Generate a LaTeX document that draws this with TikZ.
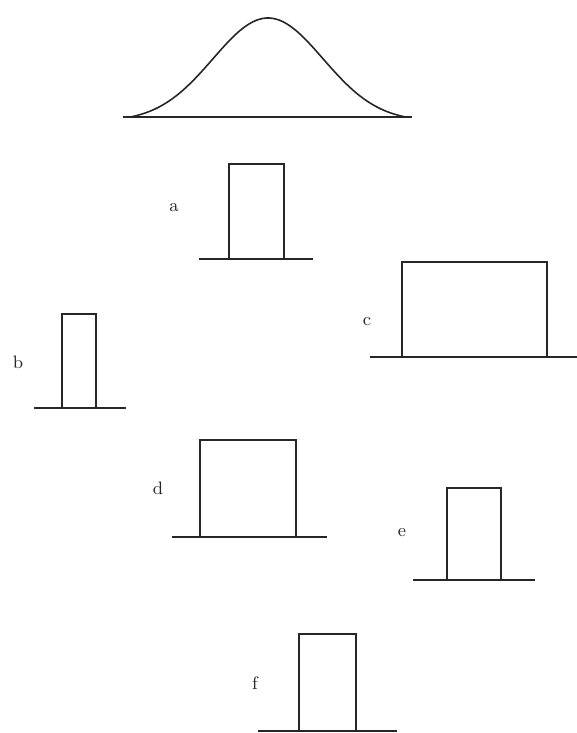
\documentclass[tikz,border=0pt]{standalone}
\begin{document}
\begin{tikzpicture}[x=0.5pt,y=-0.5pt,
  pulse/.style={line width=0.9pt,draw=black!85,line join=miter},
  base/.style={line width=0.8pt,draw=black!85},
  lbl/.style={font=\small,text=black!85,inner sep=0pt}]
\useasboundingbox (0,0) rectangle (577,733);
% Gaussian
\draw[base] (123,117) -- (412,117);
\draw[pulse,line width=0.8pt,smooth,samples=80,domain=-2.5:2.5]
  plot ({268+55*\x},{117-99*(exp(-\x*\x/2)-0.0439)/0.9561});
% a
\draw[base] (199,259) -- (313,259);
\draw[pulse] (229,259) -- (229,164) -- (284,164) -- (284,259);
\node[lbl] (la) at (174,208) {a};
% b
\draw[base] (34,408) -- (126,408);
\draw[pulse] (62,408) -- (62,314) -- (96,314) -- (96,408);
\node[lbl] (lb) at (18,362) {b};
% c
\draw[base] (370,357) -- (577,357);
\draw[pulse] (402,357) -- (402,262) -- (547,262) -- (547,357);
\node[lbl] (lc) at (367,322) {c};
% d
\draw[base] (172,537) -- (327,537);
\draw[pulse] (200,537) -- (200,440) -- (296,440) -- (296,537);
\node[lbl] (ld) at (158,488) {d};
% e
\draw[base] (413,580) -- (535,580);
\draw[pulse] (447,580) -- (447,488) -- (501,488) -- (501,580);
\node[lbl] (le) at (402,533) {e};
% f
\draw[base] (258,731) -- (397,731);
\draw[pulse] (299,731) -- (299,634) -- (356,634) -- (356,731);
\node[lbl] (lf) at (255,683) {f};
\end{tikzpicture}
\end{document}
